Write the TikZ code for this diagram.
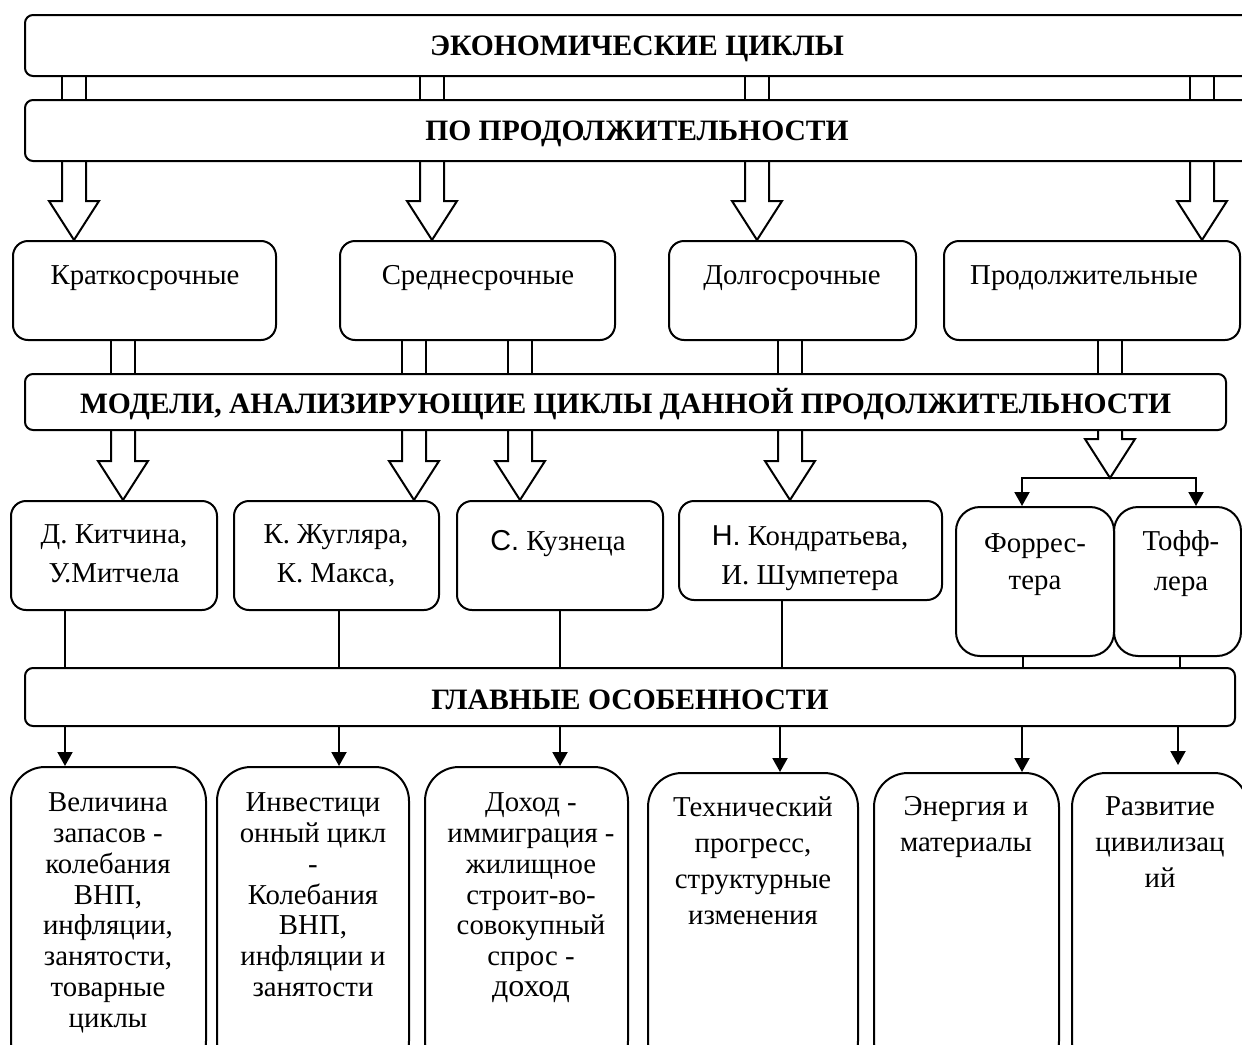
\documentclass[tikz,border=0pt]{standalone}
\usepackage{fontspec}
\setmainfont{Liberation Serif}
\newfontfamily\altsans{Liberation Sans}
\usetikzlibrary{arrows.meta,calc,fit,positioning}

\tikzset{
    frame/.style={draw, line width=1pt, rounded corners=#1, inner sep=0pt},
    frame/.default=4pt,
    head/.style={inner sep=0pt, font=\bfseries\fontsize{14.8}{16}\selectfont},
    txt/.style={anchor=north, inner sep=0pt, align=center,
        font=\fontsize{14.4}{#1}\selectfont,
        execute at begin node={\rule{0pt}{13pt}}},
    txt/.default=15.4pt,
    link/.style={line width=1pt},
    tip/.style={line width=1pt, -{Triangle[length=7pt,width=7.5pt]}},
}

% two parallel lines between boxes
\newcommand\pairlink[3]{%
    \draw[link] ($(#2 -| #1,0)+(-12,0)$) -- ($(#3 -| #1,0)+(-12,0)$);
    \draw[link] ($(#2 -| #1,0)+(12,0)$) -- ($(#3 -| #1,0)+(12,0)$);
}
% hollow block arrow
\newcommand\bigarrow[3]{%
    \draw[link, line join=miter] ($(#2 -| #1,0)+(-12,0)$) -- ($(#3 -| #1,0)+(-12,-39)$)
        -- ++(-13,0) -- (#3 -| #1,0) -- ++(25,-39) -- ++(-13,0) -- ($(#2 -| #1,0)+(12,0)$);
}

\begin{document}
\begin{tikzpicture}[x=0.5pt,y=-0.5pt]
    \useasboundingbox (0,0) rectangle (1242,1044);
    \clip (0,0) rectangle (1242,1044);

    \node[frame, fit={(25,15) (1250,76)}] (econ) {};
    \node[head] (econ-t) at (637,48.5) {ЭКОНОМИЧЕСКИЕ ЦИКЛЫ};
    \node[frame, fit={(25,100) (1250,161)}] (dur) {};
    \node[head] (dur-t) at (637,133.5) {ПО ПРОДОЛЖИТЕЛЬНОСТИ};

    \node[frame=7.5pt, fit={(13,241) (276,340)}] (short) {};
    \node[frame=7.5pt, fit={(340,241) (615,340)}] (mid) {};
    \node[frame=7.5pt, fit={(669,241) (916,340)}] (long) {};
    \node[frame=7.5pt, fit={(944,241) (1240,340)}] (vlong) {};
    \node[txt] (short-t) at (145,258.5) {Краткосрочные};
    \node[txt] (mid-t) at (478,258.5) {Среднесрочные};
    \node[txt] (long-t) at (792,258.5) {Долгосрочные};
    \node[txt] (vlong-t) at (1084,258.5) {Продолжительные};

    \node[frame, fit={(25,374) (1226,430)}] (models) {};
    \node[head] (models-t) at (625.5,404) {МОДЕЛИ, АНАЛИЗИРУЮЩИЕ ЦИКЛЫ ДАННОЙ ПРОДОЛЖИТЕЛЬНОСТИ};

    \node[frame=7.5pt, fit={(11,501) (217,610)}] (kitch) {};
    \node[frame=7.5pt, fit={(234,501) (439,610)}] (jugl) {};
    \node[frame=7.5pt, fit={(457,501) (663,610)}] (kuzn) {};
    \node[frame=7.5pt, fit={(679,501) (942,600)}] (kondr) {};
    \node[frame=12pt, fit={(956,507) (1114,656)}] (forr) {};
    \node[frame=12pt, fit={(1114,507) (1241,656)}] (toff) {};
    \node[txt=19.5pt] (kitch-t) at (114,524.5) {Д. Китчина,\\У.Митчела};
    \node[txt=19.5pt] (jugl-t) at (336,524.5) {К. Жугляра,\\К. Макса,};
    \node[txt=19.5pt] (kuzn-t) at (558,524.5) {{\altsans С.} Кузнеца};
    \node[txt=19.5pt] (kondr-t) at (810,525.5) {{\altsans Н.} Кондратьева,\\И. Шумпетера};
    \node[txt=18.5pt] (forr-t) at (1035,533.5) {Форрес-\\тера};
    \node[txt=20pt] (toff-t) at (1181,530.5) {Тофф-\\лера};

    \node[frame, fit={(25,668) (1235,726)}] (feat) {};
    \node[head] (feat-t) at (630,700) {ГЛАВНЫЕ ОСОБЕННОСТИ};

    \node[frame=17pt, fit={(11,767) (206,1075)}] (r1) {};
    \node[frame=17pt, fit={(217,767) (409,1075)}] (r2) {};
    \node[frame=17pt, fit={(425,767) (628,1075)}] (r3) {};
    \node[frame=17pt, fit={(648,773) (858,1075)}] (r4) {};
    \node[frame=17pt, fit={(874,773) (1059,1075)}] (r5) {};
    \node[frame=17pt, fit={(1072,773) (1248,1075)}] (r6) {};
    \node[txt] (r1-t) at (108,792.5) {Величина\\запасов -\\колебания\\ВНП,\\инфляции,\\занятости,\\товарные\\циклы};
    \node[txt] (r2-t) at (313,792.5) {Инвестици\\онный цикл\\-\\Колебания\\ВНП,\\инфляции и\\занятости};
    \node[txt] (r3-t) at (531,792.5) {Доход -\\иммиграция -\\жилищное\\строит-во-\\совокупный\\спрос -\\{\fontsize{16}{15.4}\selectfont доход}};
    \node[txt=18pt] (r4-t) at (753,796.5) {Технический\\прогресс,\\структурные\\изменения};
    \node[txt=18pt] (r5-t) at (966,796.5) {Энергия и\\материалы};
    \node[txt=18pt] (r6-t) at (1160,796.5) {Развитие\\цивилизац\\ий};

    \coordinate (split) at (1110,478);

    \foreach \x/\t in {74/short,432/mid,757/long,1202/vlong} {
        \pairlink{\x}{econ.south}{dur.north}
        \bigarrow{\x}{dur.south}{\t.north}
    }
    \foreach \x/\s in {123/short,414/mid,520/mid,790/long,1110/vlong} {
        \pairlink{\x}{\s.south}{models.north}
    }
    \foreach \x/\t in {123/kitch.north,414/jugl.north,520/kuzn.north,790/kondr.north,1110/split} {
        \bigarrow{\x}{models.south}{\t}
    }
    \draw[tip] (split) -| (forr.north -| 1022,0);
    \draw[tip] (split) -| (toff.north -| 1196,0);

    \foreach \x/\s in {65/kitch,339/jugl,560/kuzn,782/kondr,1023/forr,1180/toff} {
        \draw[link] (\s.south -| \x,0) -- (feat.north -| \x,0);
    }
    \foreach \x/\t in {65/r1,339/r2,560/r3,780/r4,1022/r5} {
        \draw[tip] (feat.south -| \x,0) -- (\t.north -| \x,0);
    }
    \draw[tip, shorten >=3.5pt] (feat.south -| 1178,0) -- (r6.north -| 1178,0);
\end{tikzpicture}
\end{document}
